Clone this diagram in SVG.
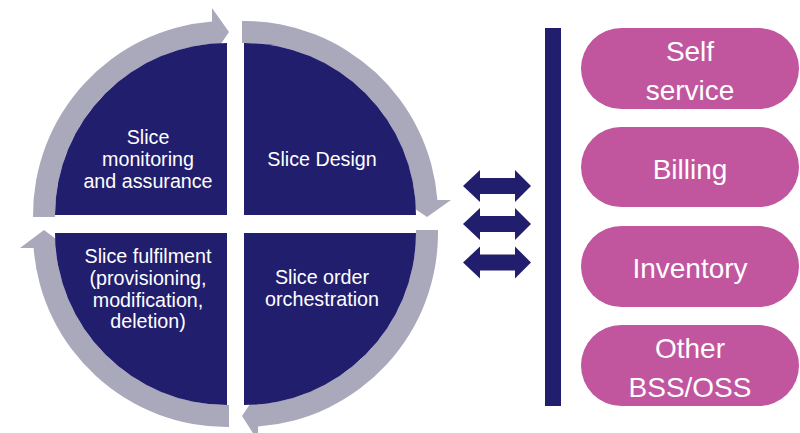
<svg xmlns="http://www.w3.org/2000/svg" width="800" height="433" viewBox="0 0 800 433">
<style>
.q{fill:#221E6E}
.ring{fill:#AAA9BC}
.dbl{fill:#221E6E}
.pill{fill:#C1569F}
.t{font-family:"Liberation Sans",Arial,sans-serif;fill:#FFFFFF;text-anchor:middle}
.qt{font-size:19.7px}
.pt{font-size:28px}
</style>
<rect width="800" height="433" fill="#FFFFFF"/>
<g id="cycle-ring">
<path class="ring" d="M 33 217 A 194 194 0 0 1 212 21.6 L 212 8 L 229 32 L 212 57 L 212 43.7 A 172 172 0 0 0 55 217 Z"/>
<path class="ring" d="M 242 21 L 244 21 A 194 194 0 0 1 437.4 200 L 451 200 L 427 217 L 402 200 L 415.3 200 A 172 172 0 0 0 244 43 L 242 43 Z"/>
<path class="ring" d="M 438 230 A 194 194 0 0 1 258 426.5 L 258 441 L 242 416 L 258 392 L 258 404.4 A 172 172 0 0 0 416 230 Z"/>
<path class="ring" d="M 229 405 L 229 427 A 194 194 0 0 1 33.6 248 L 20 248 L 44 230 L 68 248 L 55.7 248 A 172 172 0 0 0 229 405 Z"/>
</g>
<g id="slice-monitoring">
<path class="q" d="M 227 215 L 55 215 A 172 172 0 0 1 227 43 Z"/>
<text class="t qt" x="148" y="144">Slice</text>
<text class="t qt" x="148" y="166">monitoring</text>
<text class="t qt" x="148" y="188">and assurance</text>
</g>
<g id="slice-design">
<path class="q" d="M 244 215 L 244 43 A 172 172 0 0 1 416 215 Z"/>
<text class="t qt" x="322" y="166">Slice Design</text>
</g>
<g id="slice-order">
<path class="q" d="M 244 233 L 416 233 A 172 172 0 0 1 244 405 Z"/>
<text class="t qt" x="322" y="284">Slice order</text>
<text class="t qt" x="322" y="306">orchestration</text>
</g>
<g id="slice-fulfilment">
<path class="q" d="M 227 233 L 227 405 A 172 172 0 0 1 55 233 Z"/>
<text class="t qt" x="148" y="263">Slice fulfilment</text>
<text class="t qt" x="148" y="285">(provisioning,</text>
<text class="t qt" x="148" y="307">modification,</text>
<text class="t qt" x="148" y="328">deletion)</text>
</g>
<g id="connectors">
<path class="dbl" d="M 463 186 L 480 170 L 480 178 L 515 178 L 515 170 L 531 186 L 515 202 L 515 194 L 480 194 L 480 202 Z"/>
<path class="dbl" d="M 463 224 L 480 208 L 480 216 L 515 216 L 515 208 L 531 224 L 515 240 L 515 232 L 480 232 L 480 240 Z"/>
<path class="dbl" d="M 463 262.5 L 480 246.5 L 480 254.5 L 515 254.5 L 515 246.5 L 531 262.5 L 515 278.5 L 515 270.5 L 480 270.5 L 480 278.5 Z"/>
</g>
<g id="bar">
<rect class="q" x="545" y="28" width="16" height="378"/>
</g>
<g id="self-service">
<rect class="pill" x="581" y="28" width="218" height="81" rx="40.5"/>
<text class="t pt" x="690" y="61">Self</text>
<text class="t pt" x="690" y="100">service</text>
</g>
<g id="billing">
<rect class="pill" x="581" y="127" width="218" height="80" rx="40"/>
<text class="t pt" x="690" y="179">Billing</text>
</g>
<g id="inventory">
<rect class="pill" x="581" y="226" width="218" height="81" rx="40.5"/>
<text class="t pt" x="690" y="278">Inventory</text>
</g>
<g id="other-bss-oss">
<rect class="pill" x="581" y="325" width="218" height="81" rx="40.5"/>
<text class="t pt" x="690" y="358">Other</text>
<text class="t pt" x="690" y="397">BSS/OSS</text>
</g>
</svg>
